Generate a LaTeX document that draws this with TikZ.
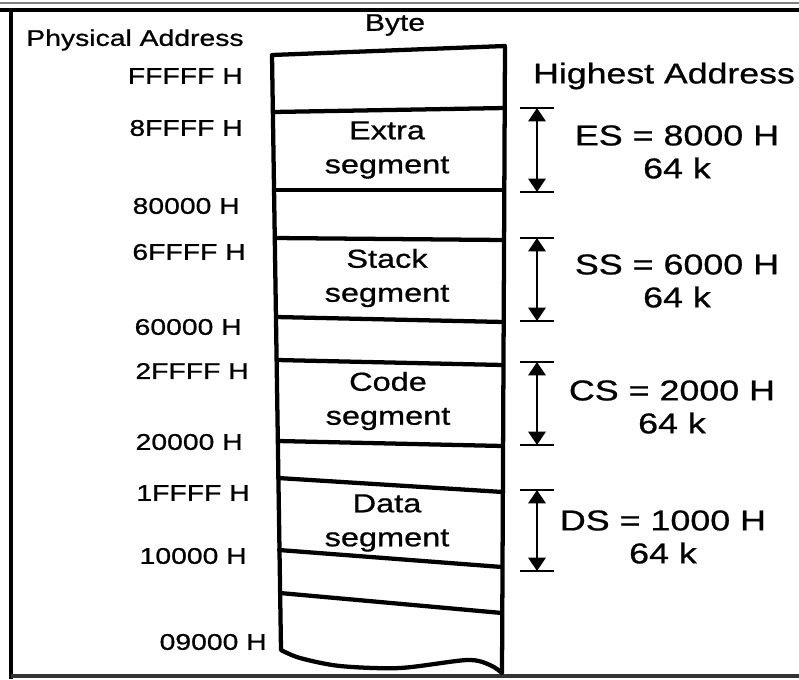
\documentclass[tikz,border=0pt]{standalone}
\usepackage{fontspec}
\setmainfont[FakeStretch=1.25, FakeBold=0.8]{Liberation Sans}
\usetikzlibrary{arrows.meta}

\begin{document}
\begin{tikzpicture}[x=0.75pt, y=-0.75pt, >={Triangle[length=10pt,width=13pt]},
  addr/.style={anchor=east, inner sep=0pt, font=\fontsize{17}{20}\selectfont},
  seglabel/.style={align=center, font=\fontsize{19.5}{25.5}\selectfont},
  reglabel/.style={align=center, font=\fontsize{21.5}{24.75}\selectfont},
  wall/.style={line width=3.2pt, line cap=round, line join=round},
  dimbar/.style={line width=2.2pt}]
\useasboundingbox (0,0) rectangle (799,679);
% frame
\draw[gray, line width=0.8pt] (0,3) -- (799,3);
\draw[line width=3pt] (0,10) -- (799,10);
\draw[line width=2.5pt] (11,10) -- (11,679);
\draw[line width=2.5pt, black!80] (11,676) -- (799,676);
% headings
\node[font=\fontsize{17}{20}\selectfont] (phys) at (135,40) {Physical Address};
\node[font=\fontsize{18}{20}\selectfont] (byte) at (395,25) {Byte};
\node[font=\fontsize{21.4}{24}\selectfont] (highest) at (664,76) {Highest Address};
% memory column
\draw[wall] (505,46) -- (272,55) -- (281,650)
  -- plot[smooth] coordinates {(281,650) (300,658) (340,666) (400,668) (467,660) (490,665) (502,673)}
  -- cycle;
\foreach \xl/\yl/\xr/\yr in {273/112/505/108, 274/190/504/190, 275/238/504/240,
    276/317/504/322, 277/360/503/365, 278/441/503/446, 278/478/503/492,
    279/550/502/567, 280/593/502/613}
  \draw[wall] (\xl,\yl) -- (\xr,\yr);
% segment names
\node[seglabel] (extra) at (387,150) {Extra\\segment};
\node[seglabel] (stack) at (387,278) {Stack\\segment};
\node[seglabel] (code)  at (388,401) {Code\\segment};
\node[seglabel] (data)  at (387,523) {Data\\segment};
% physical addresses
\node[addr] (afffff) at (243,76)  {FFFFF H};
\node[addr] (a8ffff) at (243,128) {8FFFF H};
\node[addr] (a80000) at (240,206) {80000 H};
\node[addr] (a6ffff) at (246,252) {6FFFF H};
\node[addr] (a60000) at (242,327) {60000 H};
\node[addr] (a2ffff) at (249,371) {2FFFF H};
\node[addr] (a20000) at (243,442) {20000 H};
\node[addr] (a1ffff) at (250,493) {1FFFF H};
\node[addr] (a10000) at (247,556) {10000 H};
\node[addr] (a09000) at (267,642) {09000 H};
% 64 k spans
\foreach \n/\t/\b in {es/108/192, ss/238/321, cs/362/445, ds/490/571} {
  \coordinate (\n top) at (537,\t);
  \coordinate (\n bot) at (537,\b);
  \draw[dimbar] ([xshift=-12.75pt]\n top) -- ([xshift=12.75pt]\n top);
  \draw[dimbar] ([xshift=-12.75pt]\n bot) -- ([xshift=12.75pt]\n bot);
  \draw[<->, line width=1.5pt] (\n top) -- (\n bot);
}
% segment registers
\node[reglabel] (eslbl) at (677,152) {ES = 8000 H\\64 k};
\node[reglabel] (sslbl) at (677,281) {SS = 6000 H\\64 k};
\node[reglabel] (cslbl) at (672,407) {CS = 2000 H\\64 k};
\node[reglabel] (dslbl) at (663,537) {DS = 1000 H\\64 k};
\end{tikzpicture}
\end{document}
